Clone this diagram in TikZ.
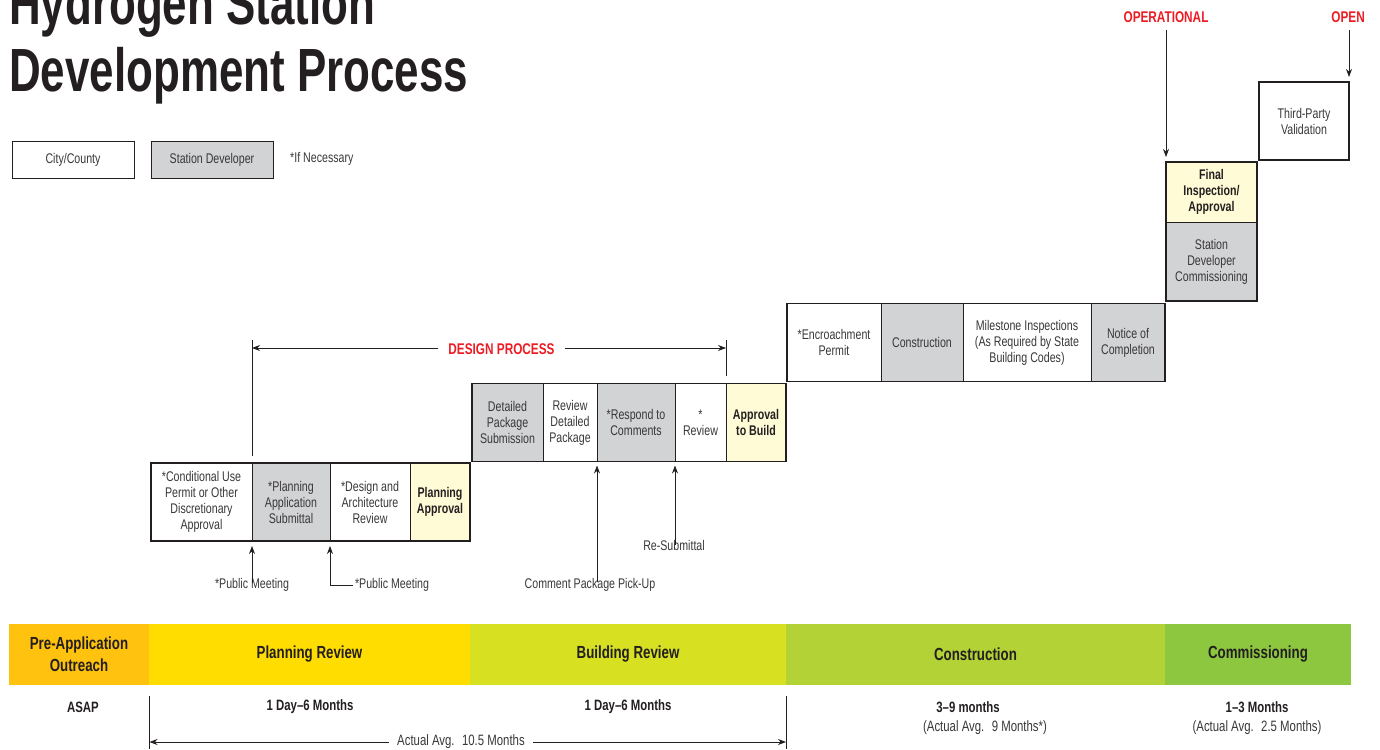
\documentclass[tikz,border=0pt]{standalone}
\usepackage{fontspec}
\setmainfont[FakeStretch=.76]{Liberation Sans}
\newfontfamily\ttlfont[FakeStretch=.72]{Liberation Sans}
\usetikzlibrary{arrows.meta}
\definecolor{ink}{HTML}{231F20}
\definecolor{soft}{HTML}{3A3738}
\definecolor{devgrey}{HTML}{D1D3D4}
\definecolor{cream}{HTML}{FFFBD6}
\definecolor{redlab}{HTML}{ED1C24}
\definecolor{s1}{HTML}{FFC20E}
\definecolor{s2}{HTML}{FFDD00}
\definecolor{s3}{HTML}{D7E021}
\definecolor{s4}{HTML}{B2D235}
\definecolor{s5}{HTML}{8DC63F}
\tikzset{
 x=1pt,y=-1pt,
 body/.style={font=\fontsize{14}{16}\selectfont,text=soft,align=center,inner sep=0pt},
 bodybold/.style={font=\fontsize{14}{16}\selectfont\bfseries,text=ink,align=center,inner sep=0pt},
 cell/.style={body,draw=ink,line width=.8pt,minimum height=78pt,outer sep=0pt},
 cityc/.style={cell,fill=white},
 devc/.style={cell,fill=devgrey},
 apprc/.style={cell,fill=cream,font=\fontsize{14}{16}\selectfont\bfseries,text=ink},
 frame/.style={draw=ink,line width=1.8pt},
 strip/.style={font=\fontsize{17.5}{22}\selectfont\bfseries,text=ink,align=center,inner sep=0pt,minimum height=61pt,outer sep=0pt},
 redlabel/.style={font=\fontsize{15.5}{18}\selectfont\bfseries,text=redlab,inner sep=0pt},
 timebold/.style={font=\fontsize{15}{18}\selectfont\bfseries,text=ink,align=center,inner sep=0pt},
 arrowline/.style={draw=ink,line width=.8pt,-{Stealth[length=8pt,width=6pt]}},
 plainline/.style={draw=ink,line width=.8pt},
}
\begin{document}
\begin{tikzpicture}
\useasboundingbox (0,0) rectangle (1380,749);
\node[anchor=base west,inner sep=0pt,text=ink,font=\fontsize{61}{67}\selectfont\bfseries\ttlfont,align=left] (title) at (9,25) {Hydrogen Station};
\node[anchor=base west,inner sep=0pt,text=ink,font=\fontsize{61}{67}\selectfont\bfseries\ttlfont,align=left] (title2) at (9,92) {Development Process};
% legend
\node[cityc,minimum width=122pt,minimum height=37pt] (lg1) at (73,159.5) {City/County};
\node[devc,minimum width=122pt,minimum height=37pt] (lg2) at (212,159.5) {Station Developer};
\node[body,anchor=west] (lg3) at (290,159) {*If Necessary};
% row 1
\node[cityc,minimum width=101pt] (a1) at (201.5,502) {*Conditional Use\\Permit or Other\\Discretionary\\Approval};
\node[devc,minimum width=78pt] (a2) at (291,502) {*Planning\\Application\\Submittal};
\node[cityc,minimum width=80pt] (a3) at (370,502) {*Design and\\Architecture\\Review};
\node[apprc,minimum width=60pt] (a4) at (440,502) {Planning\\Approval};
\draw[frame] (a1.north west) rectangle (a4.south east);
% row 2
\node[devc,minimum width=71pt] (b1) at (507.5,422.5) {Detailed\\Package\\Submission};
\node[cityc,minimum width=54pt] (b2) at (570,422.5) {Review\\Detailed\\Package};
\node[devc,minimum width=78pt] (b3) at (636,422.5) {*Respond to\\Comments};
\node[cityc,minimum width=51pt] (b4) at (700.5,422.5) {*\\Review};
\node[apprc,minimum width=60pt] (b5) at (756,422.5) {Approval\\to Build};
\draw[frame] (b1.north west) rectangle (b5.south east);
% row 3
\node[cityc,minimum width=94pt] (c1) at (834,342.5) {*Encroachment\\Permit};
\node[devc,minimum width=82pt] (c2) at (922,342.5) {Construction};
\node[cityc,minimum width=128pt] (c3) at (1027,342.5) {Milestone Inspections\\(As Required by State\\Building Codes)};
\node[devc,minimum width=74pt] (c4) at (1128,342.5) {Notice of\\Completion};
\draw[frame] (c1.north west) rectangle (c4.south east);
% step 4
\node[apprc,minimum width=91pt,minimum height=60pt] (d1) at (1211.5,192) {Final\\Inspection/\\Approval};
\node[devc,minimum width=91pt,minimum height=79pt] (d2) at (1211.5,261.5) {Station\\Developer\\Commissioning};
\draw[frame] (d1.north west) rectangle (d2.south east);
% step 5
\node[cityc,minimum width=90pt] (e1) at (1304,121) {Third-Party\\Validation};
\draw[frame] (e1.north west) rectangle (e1.south east);
% design process
\node[redlabel] (dp) at (501.5,349) {DESIGN PROCESS};
\coordinate (dpl) at (252,348);
\coordinate (dpr) at (726,348);
\coordinate (dplt) at (252,340);
\coordinate (dprt) at (726,340);
\coordinate (dplb) at (252,456);
\coordinate (dprb) at (726,376);
\draw[plainline] (dplt) -- (dplb);
\draw[plainline] (dprt) -- (dprb);
\draw[arrowline] ([xshift=-10pt]dp.west|-dpl) -- (dpl);
\draw[arrowline] ([xshift=10pt]dp.east|-dpr) -- (dpr);
% callouts
\node[body] (pm1) at (252,585) {*Public Meeting};
\node[body] (pm2) at (392,585) {*Public Meeting};
\node[body] (cp) at (590,585) {Comment Package Pick-Up};
\node[body] (rs) at (674,545) {Re-Submittal};
\draw[arrowline,shorten >=5pt] ([yshift=-5pt]pm1.north) -- (a2.south west);
\draw[arrowline,shorten >=5pt] ([xshift=-2pt]pm2.west) -| (a3.south west);
\draw[arrowline,shorten >=4pt] ([yshift=-4pt]cp.north -| b3.south west) -- (b3.south west);
\draw[arrowline,shorten >=4pt] ([yshift=-5pt]rs.north -| b4.south west) -- (b4.south west);
\node[redlabel] (op) at (1166,17) {OPERATIONAL};
\node[redlabel,anchor=east] (opn) at (1365,17) {OPEN};
\draw[arrowline,shorten >=5pt] (d1.north west |- 0,30) -- (d1.north west);
\draw[arrowline,shorten >=5pt] (e1.north east |- 0,30) -- (e1.north east);
% strips
\node[strip,fill=s1,minimum width=140pt] (p1) at (79,654.5) {\fontsize{17.5}{22}\selectfont Pre-Application\\Outreach};
\node[strip,fill=s2,minimum width=321pt] (p2) at (309.5,654.5) {Planning Review};
\node[strip,fill=s3,minimum width=316pt] (p3) at (628,654.5) {Building Review};
\node[strip,fill=s4,minimum width=379pt] (p4) at (975.5,654.5) {Construction};
\node[strip,fill=s5,minimum width=186pt] (p5) at (1258,654.5) {Commissioning};
% timing
\node[timebold] (t1) at (83,707) {ASAP};
\node[timebold] (t2) at (310,707) {1 Day–6 Months};
\node[timebold] (t3) at (628,707) {1 Day–6 Months};
\node[timebold] (t4) at (968,707) {3–9 months};
\node[body,font=\fontsize{15}{18}\selectfont] (t4b) at (985,728) {(Actual Avg. ~9 Months*)};
\node[timebold] (t5) at (1257,707) {1–3 Months};
\node[body,font=\fontsize{15}{18}\selectfont] (t5b) at (1257,728) {(Actual Avg. ~2.5 Months)};
\node[body,font=\fontsize{15}{18}\selectfont] (avg) at (461,742) {Actual Avg. ~10.5 Months};
\coordinate (vlt) at (149.5,696);
\coordinate (vlb) at (149.5,749);
\coordinate (vrt) at (786,696);
\coordinate (vrb) at (786,749);
\draw[plainline] (vlt) -- (vlb);
\draw[plainline] (vrt) -- (vrb);
\draw[arrowline] ([xshift=-8pt]avg.west) -- (avg.west -| vlt);
\draw[arrowline] ([xshift=8pt]avg.east) -- (avg.east -| vrt);
\end{tikzpicture}
\end{document}
